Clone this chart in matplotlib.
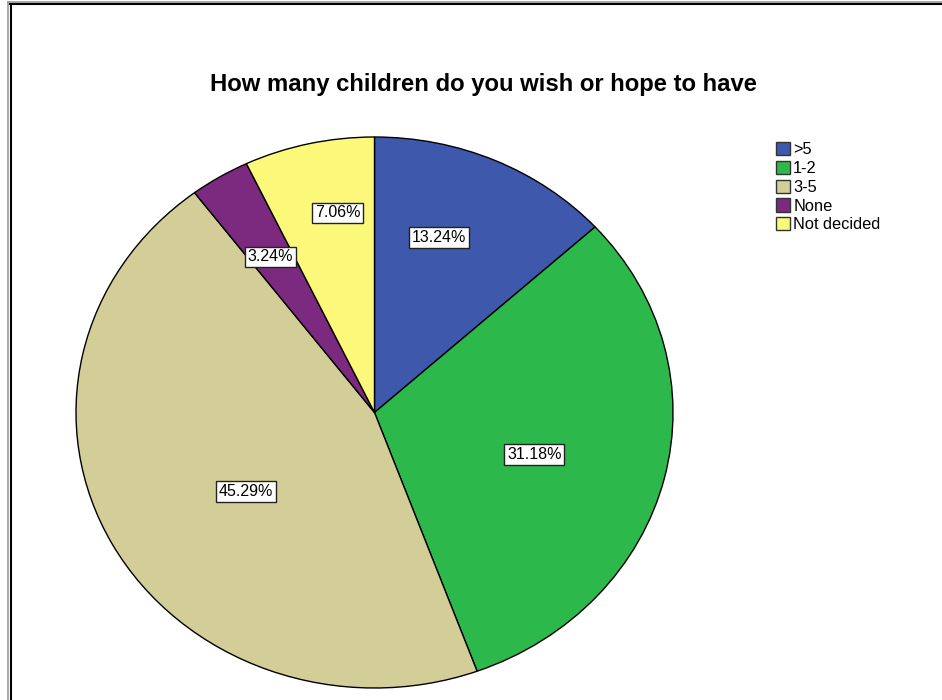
import numpy as np
import matplotlib
matplotlib.use("Agg")
import matplotlib.pyplot as plt
from matplotlib.lines import Line2D

# Data
categories = [">5", "1-2", "3-5", "None", "Not decided"]
percentages = [13.24, 31.18, 45.29, 3.24, 7.06]
colors = ["#3E58AC", "#2DB84B", "#D3CE97", "#7B2A7F", "#FBF87A"]
title = "How many children do you wish or hope to have"

# Label placement (radius fraction and angular nudge, in degrees)
label_radius = [0.67, 0.556, 0.516, 0.664, 0.735]
label_nudge = [5, -2, 5, 0.5, -3]

plt.rcParams["font.family"] = ["Liberation Sans", "DejaVu Sans"]

W, H = 942, 700
fig = plt.figure(figsize=(W / 100, H / 100), dpi=100)
fig.patch.set_facecolor("white")

# Pie occupies an elliptical region
px_left, px_right, px_top, px_bottom = 76, 673, 137, 688
ax = fig.add_axes([px_left / W, 1 - px_bottom / H,
                   (px_right - px_left) / W, (px_bottom - px_top) / H])
wedges, _ = ax.pie(percentages, colors=colors, startangle=90, counterclock=False,
                   wedgeprops=dict(edgecolor="black", linewidth=1.0))
ax.set_aspect("auto")
ax.set_xlim(-1, 1)
ax.set_ylim(-1, 1)
ax.axis("off")

for w, pct, r, nudge in zip(wedges, percentages, label_radius, label_nudge):
    mid = np.deg2rad((w.theta1 + w.theta2) / 2 + nudge)
    ax.text(r * np.cos(mid), r * np.sin(mid), f"{pct:.2f}%",
            ha="center", va="center", fontsize=11.5, color="black",
            bbox=dict(boxstyle="square,pad=0.18", facecolor="white",
                      edgecolor="#222222", linewidth=1.0))

fig.text(483 / W, 1 - 85 / H, title, ha="center", va="center",
         fontsize=17.2, fontweight="bold", color="black")

leg = fig.legend(wedges, categories, loc="upper left",
                 bbox_to_anchor=(776 / W, 1 - 142 / H),
                 frameon=False, fontsize=11.8, handlelength=0.85, handleheight=0.85,
                 handletextpad=0.2, labelspacing=0.22, borderpad=0, borderaxespad=0)
for h in leg.legend_handles:
    h.set_edgecolor("#333333")
    h.set_linewidth(1.0)

# Outer frame (top and left edges)
fig.add_artist(Line2D([8 / W, 1], [1 - 1.5 / H, 1 - 1.5 / H], color="#999999", lw=1.2))
fig.add_artist(Line2D([8 / W, 8 / W], [0, 1 - 1.5 / H], color="#999999", lw=1.2))
fig.add_artist(Line2D([10 / W, 1], [1 - 3.5 / H, 1 - 3.5 / H], color="black", lw=1.5))
fig.add_artist(Line2D([10.5 / W, 10.5 / W], [0, 1 - 3.5 / H], color="black", lw=1.5))

fig.savefig("out.png", dpi=100, facecolor="white")
